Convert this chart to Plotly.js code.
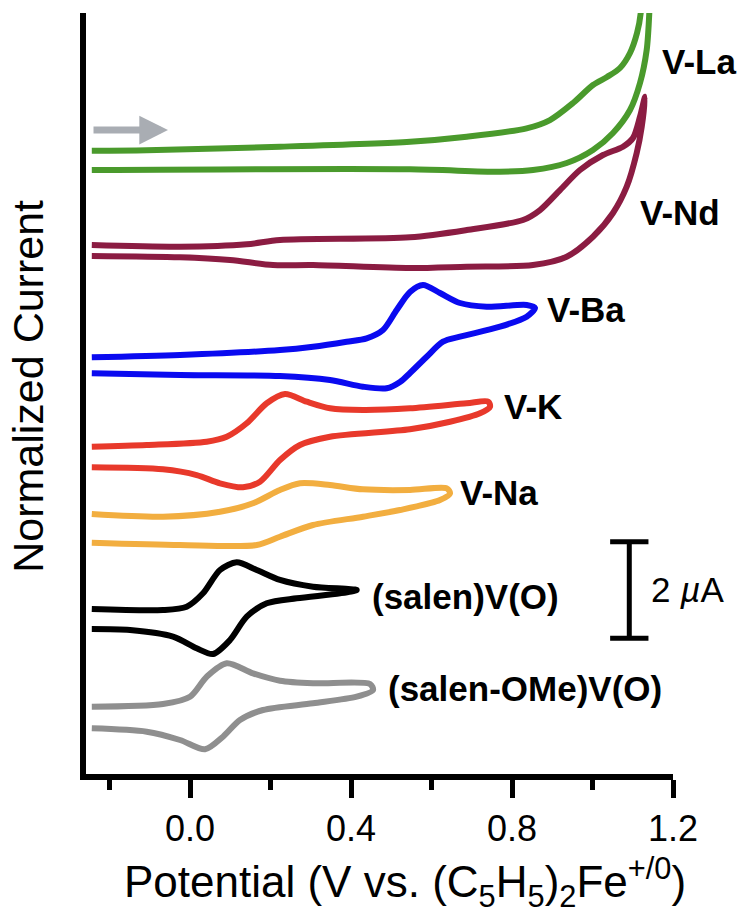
<!DOCTYPE html>
<html>
<head>
<meta charset="utf-8">
<script src="https://cdn.plot.ly/plotly-3.0.1.min.js"></script>
<style>html,body{margin:0;padding:0;background:#fff;}#chart{width:744px;height:921px;}</style>
</head>
<body>
<div id="chart"></div>
<script>
// Potential (V vs Fc+/0) and current (µA, offset stacked) for each cyclic voltammogram
// each loop: oxidative sweep left->right, then return sweep right->left
const xLa = [-0.244,-0.108,0.224,0.547,0.6875,0.8365,0.8944,0.9516,1.0012,1.036,1.0683,1.0932,1.1106,1.1198,1.122,
             1.143,1.1411,1.1346,1.118,1.0932,1.0509,1.0012,0.9359,0.8522,0.7702,0.5466,-0.244];
const yLa = [12.905,12.915,12.988,13.091,13.195,13.369,13.540,13.892,14.265,14.431,14.617,14.928,15.342,15.756,16.4,
             16.4,15.756,14.990,14.306,13.747,13.271,12.919,12.650,12.505,12.470,12.520,12.505];

const xNd = [-0.244,-0.0248,0.1409,0.2236,0.5466,0.6875,0.8273,0.8696,0.9193,0.9689,1.0261,1.0758,1.1006,1.118,1.1304,
             1.1223,1.1098,1.085,1.0509,1.0012,0.9359,0.8522,0.6875,0.5466,0.3056,0.2062,0.0994,-0.0248,-0.244];
const yNd = [10.952,10.917,10.967,11.056,11.112,11.263,11.470,11.677,12.091,12.505,12.816,12.988,13.168,13.609,14.023,
             13.402,12.857,12.159,11.615,11.124,10.710,10.538,10.503,10.476,10.538,10.538,10.642,10.698,10.725];

const xBa = [-0.244,-0.0248,0.2236,0.3056,0.3893,0.439,0.4795,0.5135,0.5466,0.5789,0.6211,0.6708,0.7371,0.8365,0.8571,
             0.8365,0.7702,0.6708,0.6286,0.5881,0.5466,0.5217,0.4887,0.4298,0.3478,0.2236,-0.0248,-0.244];
const yBa = [8.627,8.675,8.778,8.847,8.950,9.021,9.193,9.607,9.980,10.124,9.959,9.752,9.675,9.710,9.648,
             9.468,9.261,9.054,8.950,8.640,8.302,8.116,7.986,8.019,8.157,8.240,8.261,8.296];

const xK = [-0.244,-0.1076,0.0415,0.0912,0.1409,0.1906,0.236,0.2899,0.3478,0.4298,0.5466,0.6875,0.7411,0.7453,
            0.7205,0.646,0.5466,0.3478,0.2733,0.2236,0.1739,0.1317,0.0745,0.0166,-0.0671,-0.244];
const yK = [6.776,6.812,6.880,6.983,7.261,7.675,7.867,7.708,7.571,7.536,7.571,7.675,7.708,7.604,
            7.468,7.294,7.137,6.983,6.812,6.501,6.052,5.936,6.019,6.190,6.308,6.350];

const xNa = [-0.244,-0.0671,0.0745,0.1565,0.2236,0.2733,0.3478,0.4298,0.5466,0.6378,0.646,
             0.6211,0.5217,0.4298,0.3056,0.2236,0.1657,-0.0248,-0.244];
const yNa = [5.383,5.327,5.431,5.605,5.880,6.019,5.983,5.894,5.880,5.915,5.812,
             5.673,5.466,5.327,5.155,4.913,4.741,4.741,4.789];

const xSalen = [-0.244,-0.0671,-0.0082,0.0323,0.0745,0.116,0.1657,0.2236,0.3056,0.4142,
                0.3727,0.2651,0.1906,0.1409,0.0994,0.0571,0.0166,-0.0422,-0.149,-0.244];
const ySalen = [3.416,3.395,3.464,3.741,4.224,4.383,4.224,4.017,3.878,3.810,
                3.741,3.638,3.534,3.257,2.774,2.484,2.602,2.843,2.981,3.002];

const xOMe = [-0.244,-0.0671,0.0,0.0415,0.0912,0.1565,0.2236,0.3056,0.4472,0.4547,
              0.4142,0.3056,0.1814,0.124,0.082,0.0373,-0.0248,-0.1076,-0.244];
const yOMe = [1.393,1.449,1.600,2.014,2.292,2.085,1.932,1.878,1.863,1.739,
              1.600,1.464,1.325,1.118,0.772,0.511,0.704,0.876,0.946];

const seriesNames = ["V-La","V-Nd","V-Ba","V-K","V-Na","(salen)V(O)","(salen-OMe)V(O)"];
const seriesColors = ["#4a9a2c","#8b1c42","#0a0af0","#e8392b","#f2ae40","#000000","#8f8f8f"];
const seriesX = [xLa,xNd,xBa,xK,xNa,xSalen,xOMe];
const seriesY = [yLa,yNd,yBa,yK,yNa,ySalen,yOMe];

// label anchor positions (V, µA)
const labelX = [1.168,1.114,0.882,0.774,0.667,0.447,0.488];
const labelY = [14.76,11.62,9.62,7.60,5.82,3.68,1.76];

const xTickVals = [0,0.4,0.8,1.2];
const xTickText = ["0.0","0.4","0.8","1.2"];
const xMinorVals = [-0.2,0.2,0.6,1.0];

const scaleBarX = 1.0914, scaleBarY0 = 2.81, scaleBarUA = 2, scaleCapHalf = 0.0476;

const FONT = "Liberation Sans, Arial, Helvetica, sans-serif";

const traces = seriesX.map((xs,i)=>({
  x: xs, y: seriesY[i], type:'scatter', mode:'lines', name: seriesNames[i],
  line:{color: seriesColors[i], width:6, shape:'spline', smoothing:0.8},
  hoverinfo:'skip', showlegend:false
}));

const annotations = seriesNames.map((n,i)=>({
  x: labelX[i], y: labelY[i], xref:'x', yref:'y', text:'<b>'+n+'</b>',
  showarrow:false, xanchor:'left', yanchor:'middle',
  font:{family:FONT, size:35, color:'#000'}
}));
annotations.push({
  x: scaleBarX+0.05, y: scaleBarY0+scaleBarUA/2, xref:'x', yref:'y', text:'2 <i>µ</i>A',
  showarrow:false, xanchor:'left', yanchor:'middle', font:{family:FONT, size:35, color:'#000'}
});
// direction-of-scan arrow
annotations.push({
  x:-0.0547, y:13.333, ax:-0.2435, ay:13.333, axref:'x', ayref:'y', xref:'x', yref:'y',
  text:'', showarrow:true, arrowhead:2, arrowwidth:7, arrowsize:0.82, arrowcolor:'#a9adb3', standoff:0, startstandoff:0
});
// axis titles
annotations.push({
  x:0.543, y:-0.143, xref:'paper', yref:'paper', showarrow:false, xanchor:'center', yanchor:'middle',
  text:'Potential (V vs. (C<sub>5</sub>H<sub>5</sub>)<sub>2</sub>Fe<sup>+/0</sup>)',
  font:{family:FONT, size:44, color:'#000'}
});
annotations.push({
  x:-0.099, y:0.51, xref:'paper', yref:'paper', showarrow:false, xanchor:'center', yanchor:'middle',
  textangle:-90, text:'Normalized Current', font:{family:FONT, size:43, color:'#000'}
});

const shapes = [
  {type:'line', xref:'x', yref:'y', x0:scaleBarX, x1:scaleBarX, y0:scaleBarY0, y1:scaleBarY0+scaleBarUA, line:{color:'#000', width:5}},
  {type:'line', xref:'x', yref:'y', x0:scaleBarX-scaleCapHalf, x1:scaleBarX+scaleCapHalf, y0:scaleBarY0, y1:scaleBarY0, line:{color:'#000', width:5}},
  {type:'line', xref:'x', yref:'y', x0:scaleBarX-scaleCapHalf, x1:scaleBarX+scaleCapHalf, y0:scaleBarY0+scaleBarUA, y1:scaleBarY0+scaleBarUA, line:{color:'#000', width:5}}
];

const layout = {
  width:744, height:921,
  margin:{l:86, r:71, t:13, b:147},
  paper_bgcolor:'#fff', plot_bgcolor:'#fff',
  font:{family:FONT, color:'#000'},
  showlegend:false,
  xaxis:{
    range:[-0.2584,1.2], showgrid:false, zeroline:false,
    showline:true, linewidth:6, linecolor:'#000',
    tickmode:'array', tickvals:xTickVals, ticktext:xTickText,
    ticks:'outside', ticklen:18, tickwidth:5, tickcolor:'#000',
    tickfont:{family:FONT, size:36, color:'#000'},
    minor:{tickmode:'array', tickvals:xMinorVals, ticks:'outside', ticklen:10, tickwidth:5, tickcolor:'#000'}
  },
  yaxis:{
    range:[0,15.756], showgrid:false, zeroline:false,
    showline:true, linewidth:6, linecolor:'#000',
    showticklabels:false, ticks:''
  },
  annotations: annotations,
  shapes: shapes
};

Plotly.newPlot('chart', traces, layout, {displayModeBar:false, staticPlot:true});
</script>
</body>
</html>
